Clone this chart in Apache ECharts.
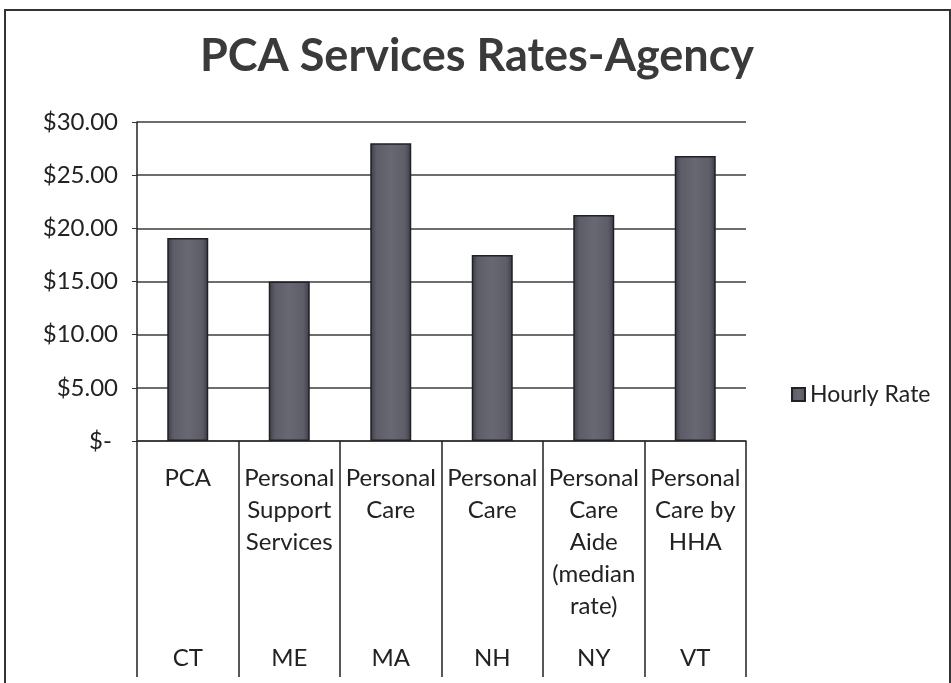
<!DOCTYPE html>
<html>
<head>
<meta charset="utf-8">
<script src="https://cdn.jsdelivr.net/npm/echarts@6/dist/echarts.min.js"></script>
<style>
  html, body { margin: 0; padding: 0; background: #fff; }
  #chart { width: 951px; height: 683px; }
</style>
</head>
<body>
<div id="chart"></div>
<script>
// values
const services = ['PCA', 'Personal\nSupport\nServices', 'Personal\nCare', 'Personal\nCare', 'Personal\nCare\nAide\n(median\nrate)', 'Personal\nCare by\nHHA'];
const states = ['CT', 'ME', 'MA', 'NH', 'NY', 'VT'];
const hourlyRate = [19.1, 15.0, 28.0, 17.5, 21.25, 26.8];

const FONT = 'Lato';

let chart = echarts.init(document.getElementById('chart'));

let barColor = new echarts.graphic.LinearGradient(0, 0, 1, 0, [
    {offset: 0, color: '#3b3c44'},
    {offset: 0.15, color: '#5c5d66'},
    {offset: 0.5, color: '#676871'},
    {offset: 0.85, color: '#5c5d66'},
    {offset: 1, color: '#3b3c44'}
]);

let option = {
    backgroundColor: '#fff',
    animation: false,
    title: {
        text: 'PCA Services Rates-Agency',
        left: 472,
        textAlign: 'center',
        top: 29,
        textStyle: {fontFamily: FONT, fontSize: 45, fontWeight: 'bold', color: '#3a3a3a'}
    },
    legend: {
        left: 786,
        top: 378,
        itemWidth: 13,
        itemHeight: 13,
        icon: 'rect',
        textStyle: {fontFamily: FONT, fontSize: 23, color: '#222'},
        data: ['Hourly Rate']
    },
    grid: {left: 137, right: 205, top: 122, bottom: 242},
    xAxis: [
        {
            type: 'category',
            data: services,
            axisLine: {lineStyle: {color: '#333', width: 1.5}},
            axisTick: {show: true, interval: 0, length: 236, lineStyle: {color: '#222', width: 1.5}},
            axisLabel: {
                interval: 0,
                margin: 21,
                verticalAlign: 'top',
                lineHeight: 32,
                fontFamily: FONT, fontSize: 24, color: '#222'
            }
        },
        {
            type: 'category',
            data: states,
            position: 'bottom',
            offset: 205,
            axisLine: {show: false},
            axisTick: {show: false},
            axisLabel: {
                interval: 0,
                margin: 2,
                lineHeight: 20,
                verticalAlign: 'top',
                fontFamily: FONT, fontSize: 24, color: '#222'
            }
        }
    ],
    yAxis: {
        type: 'value',
        min: 0,
        max: 30,
        interval: 5,
        axisLine: {show: true, lineStyle: {color: '#222', width: 1.5}},
        axisTick: {show: true, length: 5, lineStyle: {color: '#333'}},
        splitLine: {lineStyle: {color: '#3d3d3d', width: 1.5}},
        axisLabel: {
            margin: 19,
            fontFamily: FONT, fontSize: 24, color: '#222',
            formatter: function (v) {
                return v === 0 ? '$- ' : '$' + v.toFixed(2);
            }
        }
    },
    series: [
        {
            name: 'Hourly Rate',
            type: 'bar',
            xAxisIndex: 0,
            barWidth: 41,
            data: hourlyRate,
            itemStyle: {color: barColor, borderColor: '#202026', borderWidth: 1.5}
        }
    ],
    graphic: [
        {
            type: 'polyline',
            shape: {points: [[5, 700], [5, 10], [950, 10], [950, 700]]},
            style: {stroke: '#333', lineWidth: 2, fill: null}
        }
    ]
};
chart.setOption(option);
</script>
</body>
</html>
